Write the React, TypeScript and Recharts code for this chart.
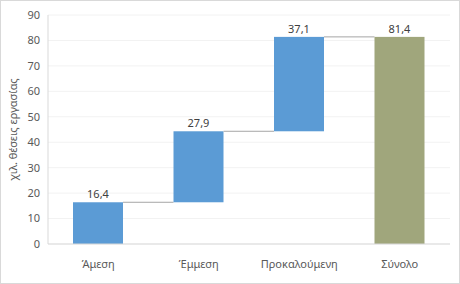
import { BarChart, Bar, XAxis, YAxis, CartesianGrid, Cell, LabelList } from "recharts";

const categories = ["Άμεση", "Έμμεση", "Προκαλούμενη", "Σύνολο"];
const values = [16.4, 27.9, 37.1, 81.4];
const isTotal = [false, false, false, true];
const yTicks = [0, 10, 20, 30, 40, 50, 60, 70, 80, 90];

const BLUE = "#5B9BD5";
const OLIVE = "#A0A67C";
const FONT = "'Noto Sans', 'Open Sans', sans-serif";

// running base for the waterfall steps; the total bar starts at zero
let running = 0;
const data = categories.map((name, i) => {
  const base = isTotal[i] ? 0 : running;
  if (!isTotal[i]) running += values[i];
  return { name, base, value: values[i], last: i === categories.length - 1 };
});

const PLOT_W = 402;
const BAND = PLOT_W / categories.length;

// bar plus the thin grey connector running to the next bar at the same level
function StepBar(props: any) {
  const { x, y, width, height, fill, payload } = props;
  const gap = BAND - width;
  return (
    <g>
      <rect x={x} y={y} width={width} height={height} fill={fill} />
      {!payload.last && (
        <line x1={x + width} x2={x + width + gap} y1={y} y2={y} stroke="#A6A6A6" strokeWidth={1} />
      )}
    </g>
  );
}

export default function App() {
  return (
    <div
      style={{
        position: "fixed",
        left: 0,
        top: 0,
        width: 460,
        height: 284,
        boxSizing: "border-box",
        border: "1px solid #D9D9D9",
        background: "#fff",
      }}
    >
      <BarChart
        width={458}
        height={282}
        data={data}
        margin={{ top: 14, right: 9, bottom: 9, left: 17 }}
        barSize={50}
      >
        <CartesianGrid vertical={false} stroke="#F2F2F2" />
        <XAxis
          dataKey="name"
          tickLine={false}
          axisLine={{ stroke: "#D9D9D9" }}
          tick={{ fontSize: 11, fill: "#595959", fontFamily: FONT }}
          tickMargin={10}
          interval={0}
          height={30}
        />
        <YAxis
          domain={[0, 90]}
          ticks={yTicks}
          tickLine={false}
          axisLine={{ stroke: "#D9D9D9" }}
          tick={{ fontSize: 11, fill: "#595959", fontFamily: FONT }}
          width={30}
          label={{
            value: "χιλ. θέσεις εργασίας",
            angle: -90,
            position: "left",
            offset: 5,
            style: { textAnchor: "middle", fontSize: 11, fill: "#595959", fontFamily: FONT },
          }}
        />
        <Bar dataKey="base" stackId="w" fill="transparent" isAnimationActive={false} />
        <Bar dataKey="value" stackId="w" shape={StepBar} isAnimationActive={false}>
          {data.map((d, i) => (
            <Cell key={i} fill={isTotal[i] ? OLIVE : BLUE} />
          ))}
          <LabelList
            dataKey="value"
            position="top"
            offset={4}
            formatter={(v: any) => String(v).replace(".", ",")}
            style={{ fontSize: 11, fill: "#404040", fontFamily: FONT }}
          />
        </Bar>
      </BarChart>
    </div>
  );
}
